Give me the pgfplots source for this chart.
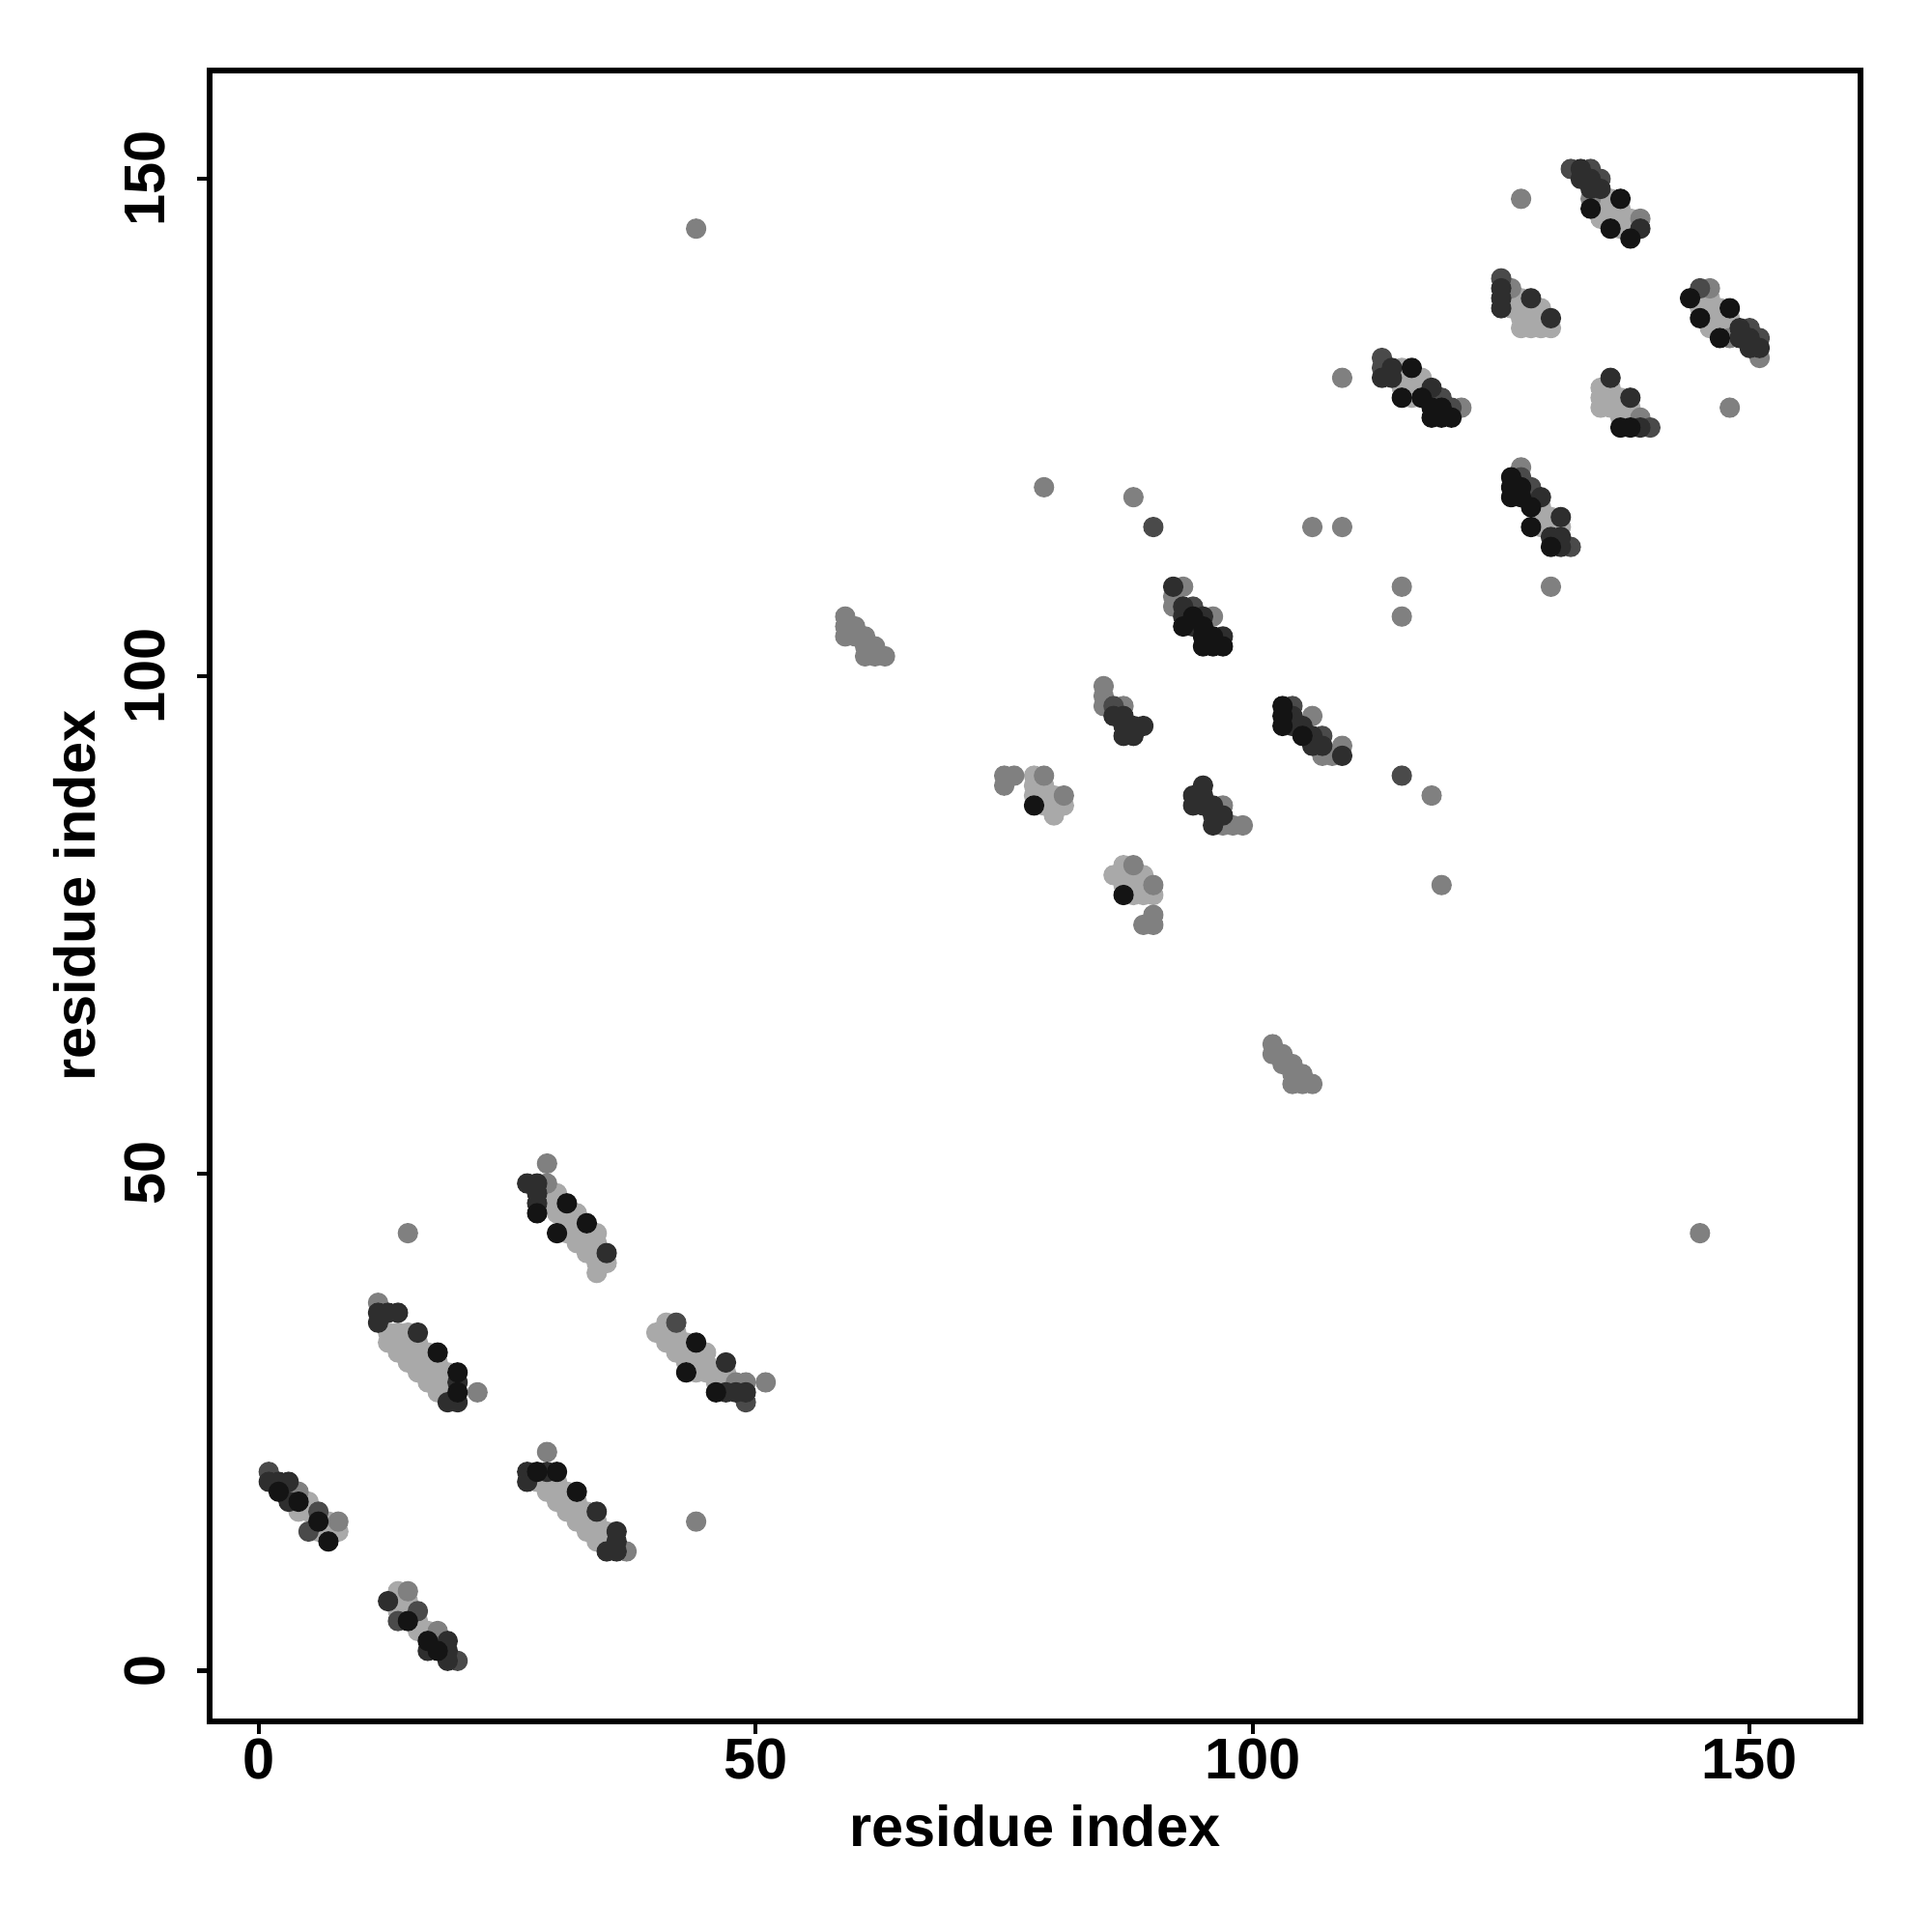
\documentclass[border=0pt]{standalone}
\usepackage{fontspec}
\setmainfont{Liberation Sans}
\usepackage{pgfplots}
\pgfplotsset{compat=1.18}
\definecolor{cB}{HTML}{141414}
\definecolor{cD}{HTML}{2E2E2E}
\definecolor{cG}{HTML}{4A4A4A}
\definecolor{cM}{HTML}{808080}
\definecolor{cL}{HTML}{A9A9A9}
\begin{document}
\begin{tikzpicture}
\begin{axis}[name=ax, scale only axis, width=12.8175cm, height=12.8175cm,
  xmin=-4.95, xmax=161.15, ymin=-5.09, ymax=160.9,
  xtick={0,50,100,150}, ytick={0,50,100,150},
  xtick pos=bottom, ytick pos=left, tick align=outside, major tick length=0.1cm,
  axis line style={line width=1.2pt}, tick style={line width=0.9pt, black},
  /pgf/number format/assume math mode=true,
  ticklabel style={font=\fontsize{12.7}{15}\selectfont\bfseries},
  xticklabel style={anchor=north, inner sep=0pt, inner ysep=0.03cm},
  yticklabel style={rotate=90, anchor=south, inner sep=0pt, inner ysep=0.24cm},
  xlabel={residue index}, ylabel={residue index},
  label style={font=\fontsize{12.7}{15}\selectfont\bfseries},
  xlabel style={at={(axis description cs:0.5,0)}, anchor=base, yshift=-0.97cm, inner sep=0pt},
  ylabel style={at={(axis description cs:0,0.5)}, anchor=south, inner sep=0pt, inner ysep=0.88cm},
  every axis plot/.append style={only marks, mark=*, mark size=2.05pt, line width=0.4pt},
]
% light gray
\addplot[color=cL] coordinates {
(5,17)(4,16)(5,16)(7,15)(6,14)(7,14)(8,14)
(14,8)(14,6)(15,6)(15,7)(14,7)(16,4)(17,4)(16,5)
(13,34)(13,33)(14,34)(14,33)(14,32)(15,34)(15,33)(15,32)(15,31)(16,33)(16,32)(16,31)(16,30)(17,32)(17,31)(17,30)(17,29)(18,31)(18,30)(18,29)(18,28)(19,30)(19,29)(19,28)
(28,19)(29,19)(29,18)(30,19)(30,18)(30,17)(31,18)(31,17)(31,16)(32,17)(32,16)(32,15)(33,16)(33,15)(33,14)(34,15)(34,14)(34,13)(35,14)(35,13)
(29,48)(29,47)(30,48)(30,47)(30,46)(31,46)(31,45)(32,46)(32,45)(32,44)(33,44)(33,43)(34,44)(34,43)(34,42)(33,42)(34,41)(35,41)(34,40)(31,44)(32,43)
(41,34)(42,34)(41,33)(42,33)(43,33)(42,32)(43,32)(44,32)(43,31)(44,31)(45,31)(45,30)(46,30)(46,29)(47,29)(47,30)(45,32)(44,30)(40,34)(41,35)
(78,90)(78,89)(78,88)(79,89)(79,88)(80,88)(80,87)(79,87)(80,86)(81,87)
(86,80)(87,80)(87,81)(87,79)(88,80)(88,79)(89,79)(89,78)(90,78)(88,78)(89,80)
(115,131)(115,130)(116,130)(115,129)(116,129)(117,129)(117,130)(116,128)
(126,138)(126,137)(127,138)(127,137)(127,136)(128,137)(128,136)(128,135)(129,136)(129,135)(130,135)(127,135)(129,137)
(129,117)(129,116)(130,116)(130,115)(129,115)(131,115)
(135,148)(135,147)(136,148)(136,147)(136,146)(137,147)(137,146)(137,145)(138,146)(138,145)(135,146)
(135,129)(135,128)(135,127)(136,129)(136,128)(137,128)(137,127)(138,127)(138,126)(136,127)(137,126)
(145,138)(145,137)(146,138)(146,137)(146,136)(147,137)(147,136)(147,135)(148,135)(148,136)(146,135)
};
% medium gray
\addplot[color=cM] coordinates {
(4,18)(8,15)(15,8)(18,4)(12,37)(22,28)(29,22)(37,12)(29,51)(29,49)(48,29)(49,29)(51,29)
(59,106)(59,105)(60,105)(59,104)(60,104)(61,104)(61,103)(62,103)(61,102)(62,102)(63,102)
(75,90)(76,90)(75,89)(79,90)(81,88)
(88,81)(90,79)(89,75)(90,76)(90,75)
(93,109)(92,108)(92,107)(96,106)
(85,99)(85,98)(85,97)(87,97)
(97,87)(97,85)(98,85)(99,85)
(106,96)(107,92)(108,92)(109,93)
(102,63)(102,62)(103,62)(103,61)(104,61)(104,60)(105,60)(105,59)(104,59)(106,59)
(121,127)(126,139)(127,121)(134,148)(139,146)(139,126)(146,139)(148,134)(151,132)
(44,145)(15,44)(44,15)(145,44)(79,119)(88,118)(106,115)(109,115)(109,130)(115,109)(115,106)(118,88)(119,79)(127,148)(130,109)(148,127)
};
% dark gray
\addplot[color=cG] coordinates {
(1,20)(6,16)(5,14)(14,5)(16,6)(20,1)(42,35)(49,27)(86,97)(94,107)(104,97)(107,94)
(113,132)(113,131)(119,128)(120,127)(125,140)(127,120)(128,119)(132,113)
(132,151)(134,151)(135,150)(140,125)(145,139)(150,135)(151,134)(90,115)(115,90)
};
% darker gray
\addplot[color=cD] coordinates {
(1,19)(2,19)(3,19)(3,17)
(13,7)(17,2)(19,3)(19,2)(19,1)
(12,36)(12,35)(13,36)(14,36)(16,34)(20,29)(19,27)(20,27)
(27,20)(29,20)(27,19)(34,16)(36,14)(36,13)(35,12)(36,12)
(27,49)(28,49)(28,48)(28,47)(35,42)
(47,31)(47,28)(48,28)(49,28)
(86,96)(87,96)(87,95)(88,95)(89,95)(87,94)(88,94)
(94,88)(95,89)(94,87)(95,88)(95,87)(96,87)(96,86)(97,86)(96,85)
(92,109)(93,107)(93,106)(95,106)(94,105)(97,104)
(104,96)(104,95)(105,95)(106,94)(106,93)(109,92)(107,93)
(113,130)(114,131)(114,130)(118,129)
(125,139)(125,138)(125,137)(128,138)(130,136)
(129,118)(131,116)(130,114)(131,114)(131,113)
(133,151)(133,150)(134,150)(134,149)(135,149)(139,145)
(136,130)(138,128)(139,125)
(149,135)(149,134)(150,134)(150,133)(151,133)
};
% black
\addplot[color=cB] coordinates {
(2,18)(4,17)(6,15)(7,13)
(15,5)(17,3)(18,2)
(18,32)(20,30)(20,28)
(28,20)(30,20)(32,18)
(28,46)(31,47)(33,45)(30,44)
(44,33)(43,30)(46,28)
(78,87)(87,78)
(93,105)(94,106)(95,105)(95,104)(96,104)(95,103)(96,103)(97,103)
(103,97)(103,96)(103,95)(105,94)
(116,131)(115,128)(117,128)(118,127)(118,126)(119,126)(120,126)(119,127)
(126,120)(126,119)(126,118)(127,119)(127,118)(128,117)(128,115)(130,113)
(134,147)(137,148)(136,145)(138,144)
(137,125)(138,125)
(144,138)(148,137)(145,136)(147,134)
};
\end{axis}
\pgfresetboundingbox
\path ([xshift=-1.6275cm,yshift=-1.635cm]ax.south west) rectangle ([xshift=0.555cm,yshift=0.5475cm]ax.north east);
\end{tikzpicture}
\end{document}
